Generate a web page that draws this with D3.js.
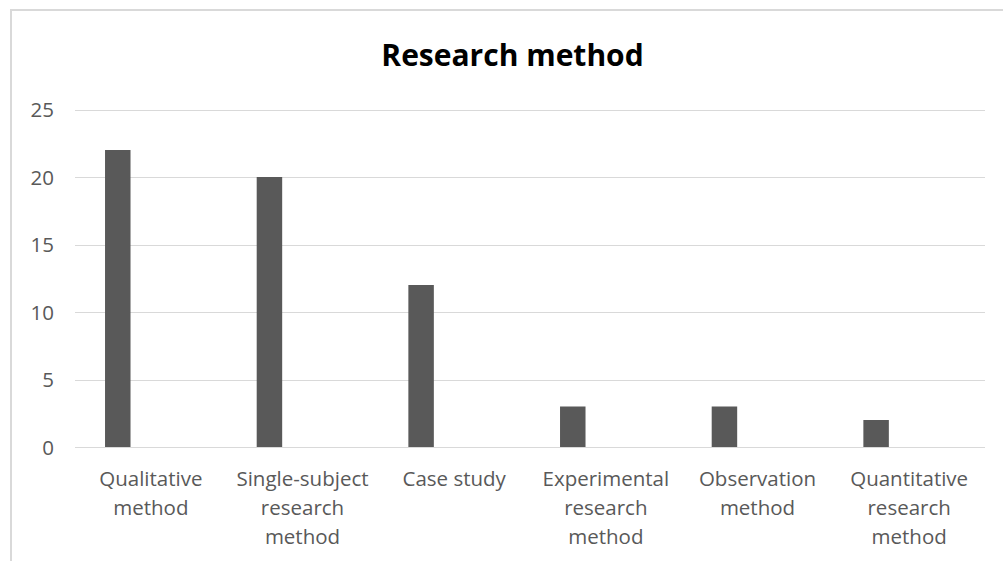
<!DOCTYPE html>
<html>
<head>
<meta charset="utf-8">
<script src="https://cdn.jsdelivr.net/npm/d3@7"></script>
<style>
    body { margin: 0; background: #fff; }
    .tick-label { font-family: "Open Sans", sans-serif; fill: #595959; }
    .title { font-family: "Open Sans", sans-serif; font-weight: bold; fill: #000; }
</style>
</head>
<body>
<div id="chart"></div>
<script>
// data
let categories = ["Qualitative method", "Single-subject research method", "Case study",
    "Experimental research method", "Observation method", "Quantitative research method"];
let values = [22, 20, 12, 3, 3, 2];
// label lines as they wrap under the axis
let categoryLines = [
    ["Qualitative", "method"],
    ["Single-subject", "research", "method"],
    ["Case study"],
    ["Experimental", "research", "method"],
    ["Observation", "method"],
    ["Quantitative", "research", "method"]
];
let yTicks = [0, 5, 10, 15, 20, 25];

let width = 1003, height = 561;
let margin = {top: 109.5, right: 18, bottom: 114, left: 75};

let svg = d3.select("#chart").append("svg")
    .attr("width", width)
    .attr("height", height);

// chart border (runs off the right and bottom edge)
svg.append("rect")
    .attr("x", 11).attr("y", 10)
    .attr("width", width + 20).attr("height", height + 20)
    .attr("fill", "none")
    .attr("stroke", "#d9d9d9")
    .attr("stroke-width", 2);

svg.append("text")
    .attr("class", "title")
    .attr("x", 512.5).attr("y", 66)
    .attr("text-anchor", "middle")
    .attr("font-size", 30)
    .text("Research method");

let x = d3.scaleBand()
    .domain(categories)
    .range([margin.left, width - margin.right]);

let y = d3.scaleLinear()
    .domain([0, 25])
    .range([height - margin.bottom, margin.top]);

// gridlines
svg.append("g")
    .selectAll("line")
    .data(yTicks)
    .join("line")
    .attr("x1", margin.left)
    .attr("x2", width - margin.right)
    .attr("y1", d => Math.round(y(d)) + 0.5)
    .attr("y2", d => Math.round(y(d)) + 0.5)
    .attr("stroke", "#d9d9d9")
    .attr("stroke-width", 1);

// y labels
svg.append("g")
    .selectAll("text")
    .data(yTicks)
    .join("text")
    .attr("class", "tick-label")
    .attr("x", 54)
    .attr("y", d => y(d) + 7.5)
    .attr("text-anchor", "end")
    .attr("font-size", 20.5)
    .text(d => d);

// bars sit in the left part of each band (empty second series)
let bw = x.bandwidth();
svg.append("g")
    .selectAll("rect")
    .data(values)
    .join("rect")
    .attr("x", (d, i) => x(categories[i]) + bw * 0.198)
    .attr("width", bw * 0.168)
    .attr("y", d => y(d))
    .attr("height", d => y(0) - y(d))
    .attr("fill", "#595959");

// category labels
let labels = svg.append("g")
    .selectAll("text")
    .data(categories)
    .join("text")
    .attr("class", "tick-label")
    .attr("text-anchor", "middle")
    .attr("font-size", 20.5)
    .attr("transform", d => `translate(${x(d) + bw / 2}, ${y(0) + 39})`);

labels.selectAll("tspan")
    .data((d, i) => categoryLines[i])
    .join("tspan")
    .attr("x", 0)
    .attr("y", (d, i) => i * 29)
    .text(d => d);
</script>
</body>
</html>
